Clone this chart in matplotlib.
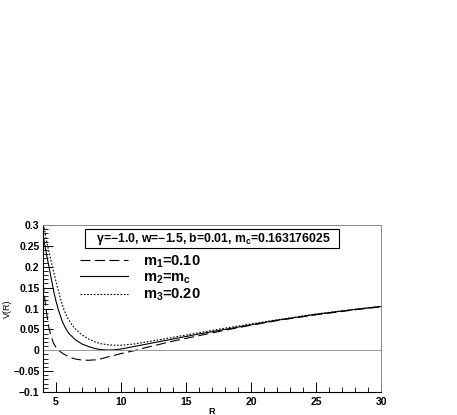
import matplotlib
matplotlib.use("Agg")
import matplotlib.pyplot as plt
from matplotlib.ticker import MultipleLocator, FuncFormatter

plt.rcParams['font.family'] = ['Liberation Sans', 'DejaVu Sans']
plt.rcParams['mathtext.fontset'] = 'custom'
plt.rcParams['mathtext.rm'] = 'Liberation Sans:bold'
plt.rcParams['mathtext.it'] = 'Liberation Sans:bold'
plt.rcParams['mathtext.bf'] = 'Liberation Sans:bold'

# curves
r_m1 = [4.0, 4.1, 4.2, 4.3, 4.43, 4.6, 4.8, 5.0, 5.2, 5.4, 5.6, 6.0, 6.5, 7.0, 7.5,
        8.0, 8.4, 9.0, 10.0, 11.0, 12.0, 14.0, 16.0, 18.0, 20.0, 22.0, 25.0, 28.0, 30.0]
v_m1 = [0.165, 0.135, 0.108, 0.085, 0.058, 0.036, 0.018, 0.007, 0.0, -0.005, -0.009,
        -0.016, -0.021, -0.0235, -0.024, -0.023, -0.021, -0.016, -0.008, -0.001, 0.007,
        0.022, 0.035, 0.048, 0.060, 0.071, 0.085, 0.097, 0.104]

r_m2 = [4.0, 4.1, 4.2, 4.36, 4.6, 4.82, 5.0, 5.2, 5.5, 5.75, 6.0, 6.5, 7.0, 7.5, 8.0,
        8.5, 9.0, 9.5, 10.0, 11.0, 12.0, 14.0, 16.0, 18.0, 20.0, 22.0, 25.0, 28.0, 30.0]
v_m2 = [0.280, 0.260, 0.242, 0.216, 0.178, 0.142, 0.118, 0.095, 0.068, 0.052, 0.040,
        0.025, 0.015, 0.009, 0.004, 0.0015, 0.0005, 0.001, 0.003, 0.009, 0.015, 0.027,
        0.039, 0.050, 0.061, 0.072, 0.086, 0.098, 0.105]

r_m3 = [4.0, 4.1, 4.3, 4.6, 4.8, 5.0, 5.33, 5.6, 5.85, 6.2, 6.5, 6.87, 7.5, 8.0, 8.4,
        9.0, 9.5, 10.0, 11.0, 12.0, 14.0, 16.0, 18.0, 20.0, 22.0, 25.0, 28.0, 30.0]
v_m3 = [0.310, 0.292, 0.258, 0.218, 0.190, 0.165, 0.125, 0.098, 0.080, 0.062, 0.051,
        0.040, 0.027, 0.020, 0.016, 0.013, 0.012, 0.012, 0.015, 0.020, 0.031, 0.042,
        0.053, 0.063, 0.073, 0.087, 0.098, 0.105]

labels = [r"m$_1$=0.10", r"m$_2$=m$_c$", r"m$_3$=0.20"]
box_text = "   γ=\u22121.0, w=\u22121.5, b=0.01, m$_c$=0.163176025   "

fig = plt.figure(figsize=(4.57, 4.15), dpi=100)
ax = fig.add_axes([0.094, 0.0554, 0.740, 0.4024])

ax.plot(r_m1, v_m1, color='black', lw=0.8, dashes=(9, 4), label=labels[0])
ax.plot(r_m2, v_m2, color='black', lw=0.8, label=labels[1])
ax.plot(r_m3, v_m3, color='black', lw=0.8, dashes=(1.5, 1.5), label=labels[2])
ax.axhline(0, color='#999999', lw=0.7)

ax.set_xlim(4, 30)
ax.set_ylim(-0.1, 0.3)
ax.xaxis.set_major_locator(MultipleLocator(5))
ax.xaxis.set_minor_locator(MultipleLocator(1))
ax.yaxis.set_major_locator(MultipleLocator(0.05))
ax.yaxis.set_minor_locator(MultipleLocator(0.01))
ax.yaxis.set_major_formatter(FuncFormatter(lambda v, p: f"{v:g}".replace("-", "\u2212")))
ax.tick_params(which='both', direction='in', top=False, right=False, labelsize=7.5)
ax.tick_params(axis='y', pad=2.5)
ax.tick_params(which='major', length=7, width=0.7)
ax.tick_params(which='minor', length=3.5, width=0.6)
for lab in ax.get_xticklabels() + ax.get_yticklabels():
    lab.set_fontweight('bold')

for s in ['top', 'right']:
    ax.spines[s].set_color('#888888')
    ax.spines[s].set_linewidth(0.7)
for s in ['left', 'bottom']:
    ax.spines[s].set_linewidth(0.8)

ax.set_xlabel("R", fontsize=6.5, fontweight='bold', labelpad=0)
ax.set_ylabel("V(R)", fontsize=6.5, labelpad=1)

ax.text(0.5, 0.918, box_text, transform=ax.transAxes, ha='center', va='center',
        fontsize=8.8, fontweight='bold',
        bbox=dict(boxstyle='square,pad=0.12', facecolor='white', edgecolor='black', lw=0.8))

leg = ax.legend(loc='upper left', bbox_to_anchor=(0.109, 0.83), frameon=False,
                prop={'size': 10.5, 'weight': 'bold'}, handlelength=3.3,
                handletextpad=1.0, labelspacing=0.05, borderpad=0, borderaxespad=0)

fig.savefig("out.png", dpi=100)
